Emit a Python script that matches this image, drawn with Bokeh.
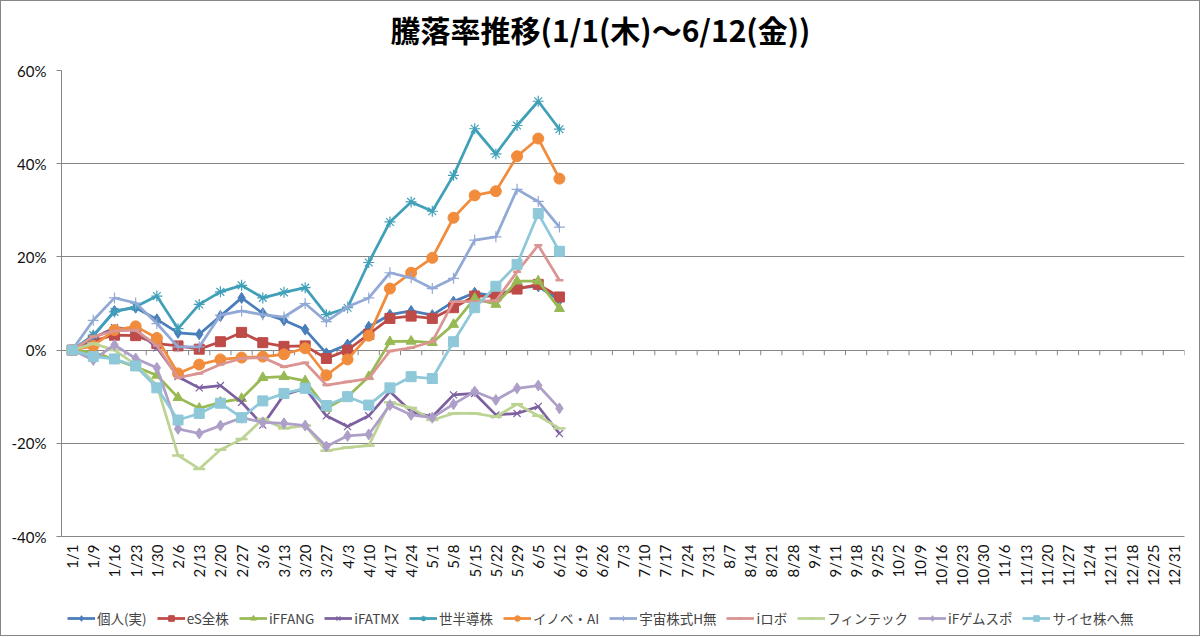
import math
from bokeh.plotting import figure
from bokeh.layouts import column
from bokeh.models import FactorRange, Range1d, Legend, LegendItem, FixedTicker, PrintfTickFormatter, ColumnDataSource, Label
from bokeh.embed import file_html
from bokeh.resources import INLINE

dates = ["1/1", "1/9", "1/16", "1/23", "1/30", "2/6", "2/13", "2/20", "2/27", "3/6", "3/13", "3/20", "3/27",
         "4/3", "4/10", "4/17", "4/24", "5/1", "5/8", "5/15", "5/22", "5/29", "6/5", "6/12", "6/19", "6/26",
         "7/3", "7/10", "7/17", "7/24", "7/31", "8/7", "8/14", "8/21", "8/28", "9/4", "9/11", "9/18", "9/25",
         "10/2", "10/9", "10/16", "10/23", "10/30", "11/6", "11/13", "11/20", "11/27", "12/4", "12/11", "12/18",
         "12/25", "12/31"]

kojin = [0, 3.0, 8.4, 9.1, 6.6, 3.7, 3.4, 7.3, 11.2, 7.9, 6.4, 4.4, -0.7, 1.2, 5.0, 7.6, 8.4, 7.5, 10.4, 12.3, 11.6, 13.4, 13.7, 10.7]
es_zen = [0, 2.0, 3.2, 3.1, 1.4, 0.9, 0.2, 1.8, 3.8, 1.6, 0.8, 0.9, -1.8, 0.0, 3.4, 6.8, 7.3, 6.8, 9.1, 11.6, 11.6, 13.1, 14.1, 11.4]
ifang = [0, -0.5, -2.0, -3.6, -5.4, -10.2, -12.5, -11.2, -10.4, -5.9, -5.7, -6.6, -12.5, -10.0, -5.7, 1.8, 1.9, 1.6, 5.5, 11.1, 9.8, 14.8, 14.8, 8.9]
ifatmx = [0, 2.6, 4.8, 4.4, 0.5, -5.7, -8.1, -7.6, -11.2, -16.1, -9.6, -8.2, -14.1, -16.4, -14.1, -8.9, -13.2, -14.3, -9.6, -9.3, -13.9, -13.6, -12.1, -17.9]
seihan = [0, 3.2, 8.2, 9.3, 11.6, 4.6, 9.8, 12.5, 13.9, 11.2, 12.4, 13.4, 7.6, 9.1, 18.8, 27.5, 31.8, 29.8, 37.5, 47.5, 42.1, 48.2, 53.4, 47.4]
inobe = [0, 0.9, 4.3, 5.1, 2.6, -5.0, -3.1, -2.0, -1.6, -1.4, -0.9, 0.4, -5.4, -2.0, 3.1, 13.2, 16.6, 19.8, 28.4, 33.2, 34.1, 41.6, 45.4, 36.8]
uchu = [0, 6.4, 11.2, 10.1, 5.7, 0.7, 0.7, 7.5, 8.4, 7.6, 7.1, 10.0, 6.1, 9.3, 11.2, 16.6, 15.5, 13.2, 15.4, 23.6, 24.3, 34.5, 31.9, 26.4]
irobo = [0, 2.9, 4.1, 4.3, 1.0, -5.9, -5.0, -3.1, -1.8, -1.6, -3.6, -2.7, -7.5, -6.8, -6.1, -0.2, 0.5, 1.8, 10.4, 10.4, 10.6, 16.8, 22.5, 15.0]
fintech = [0, 1.4, 0.0, -3.1, -7.5, -22.6, -25.5, -21.4, -19.1, -14.8, -16.8, -16.2, -21.6, -20.9, -20.5, -11.2, -12.4, -15.0, -13.6, -13.6, -14.3, -11.6, -14.1, -16.8]
gemspo = [0, -2.1, 1.1, -1.8, -3.8, -16.9, -17.9, -16.2, -14.5, -15.5, -15.7, -16.2, -20.7, -18.4, -18.1, -11.8, -13.9, -14.5, -11.6, -8.9, -10.7, -8.2, -7.6, -12.5]
saise = [0, -1.4, -1.9, -3.4, -8.1, -15.0, -13.6, -11.4, -14.5, -10.9, -9.3, -8.2, -11.9, -10.0, -11.8, -8.1, -5.7, -6.1, 1.8, 9.1, 13.7, 18.4, 29.3, 21.2]

names = ["個人(実)", "eS全株", "iFFANG", "iFATMX", "世半導株", "イノベ・AI", "宇宙株式H無", "iロボ", "フィンテック", "iFゲムスポ", "サイセ株へ無"]
values = [kojin, es_zen, ifang, ifatmx, seihan, inobe, uchu, irobo, fintech, gemspo, saise]
colors = ["#4A7EBB", "#BE4B48", "#98B954", "#7D60A0", "#3FA0B8", "#F08C3C",
          "#92A9D6", "#DA9492", "#BDD394", "#AE9FC8", "#8EC8D9"]
markers = ["diamond", "square", "triangle", "x", "asterisk", "circle", "cross", "dash", "dash", "diamond", "square"]
msizes = [11, 10, 10, 10, 11, 11, 11, 8, 12, 11, 10]

title_text = "騰落率推移(1/1(木)～6/12(金))"
y_ticks = [-40, -20, 0, 20, 40, 60]

# title strip (its frame is aligned with the main chart's frame by the column layout)
t = figure(width=1198, height=56, x_range=Range1d(0, 1), y_range=Range1d(0, 1),
           output_backend="svg", toolbar_location=None,
           min_border_left=0, min_border_right=0, min_border_top=0, min_border_bottom=0)
t.axis.visible = False
t.grid.grid_line_color = None
t.outline_line_color = None
t.add_layout(Label(x=539, y=29, x_units="screen", y_units="screen", text=title_text,
                   text_align="center", text_baseline="middle",
                   text_font="Noto Sans CJK JP", text_font_size="30px", text_font_style="bold",
                   text_color="#000000"))

p = figure(width=1198, height=542,
           x_range=FactorRange(factors=dates), y_range=Range1d(-40, 60),
           output_backend="svg", toolbar_location=None,
           min_border_left=60, min_border_right=15, min_border_top=13, min_border_bottom=63)
p.outline_line_color = None
p.xgrid.grid_line_color = None
p.ygrid.grid_line_color = "#868686"
p.ygrid.grid_line_width = 1
p.yaxis.ticker = FixedTicker(ticks=y_ticks)
p.yaxis.formatter = PrintfTickFormatter(format="%d%%")
p.yaxis.axis_line_color = "#868686"
p.yaxis.major_tick_line_color = "#868686"
p.yaxis.major_tick_out = 5
p.yaxis.major_tick_in = 0
p.yaxis.minor_tick_line_color = None
p.yaxis.major_label_text_font = "Lato"
p.yaxis.major_label_text_font_size = "15px"
p.yaxis.major_label_text_color = "#111111"
p.yaxis.major_label_standoff = 10

p.xaxis.axis_line_color = "#868686"
p.xaxis.major_tick_line_color = None
p.xaxis.major_tick_out = 0
p.xaxis.major_tick_in = 0
p.xaxis.minor_tick_line_color = None
p.xaxis.major_label_orientation = math.pi / 2
p.xaxis.major_label_text_font = "Lato"
p.xaxis.major_label_text_font_size = "15px"
p.xaxis.major_label_text_color = "#111111"
p.xaxis.major_label_standoff = 8

# category-boundary ticks on the zero line
bounds = list(range(len(dates) + 1))
p.segment(x0=bounds, y0=[0] * len(bounds), x1=bounds, y1=[-1.1] * len(bounds),
          line_color="#868686", line_width=1)

# legend strip below the chart (its renderers use the same data but are hidden)
q = figure(width=1198, height=36, x_range=FactorRange(factors=dates), y_range=Range1d(-40, 60),
           output_backend="svg", toolbar_location=None,
           min_border_left=0, min_border_right=0, min_border_top=0, min_border_bottom=0)
q.axis.visible = False
q.grid.grid_line_color = None
q.outline_line_color = None

items = []
for name, vals, col, mk, ms in zip(names, values, colors, markers, msizes):
    src = ColumnDataSource(dict(x=dates[:len(vals)], y=vals))
    for fig in (p, q):
        lr = fig.line("x", "y", source=src, line_color=col, line_width=2.75)
        if mk in ("x", "asterisk", "cross"):
            sr = fig.scatter("x", "y", source=src, marker=mk, size=ms, line_color=col, line_width=1.2, fill_color=None)
        elif mk == "dash":
            sr = fig.scatter("x", "y", source=src, marker=mk, size=ms, line_color=col, line_width=2.5, fill_color=None)
        else:
            sr = fig.scatter("x", "y", source=src, marker=mk, size=ms, line_color=col, fill_color=col)
        if fig is q:
            lr.visible = False
            sr.visible = False
            items.append(LegendItem(label=name, renderers=[lr, sr]))

legend = Legend(items=items, orientation="horizontal", location=(6, 7),
                label_text_font="Noto Sans CJK JP", label_text_font_size="13.5px",
                glyph_width=28, glyph_height=14, spacing=10, label_standoff=2,
                border_line_color=None, background_fill_alpha=0, margin=0, padding=2,
                inactive_fill_alpha=0)
q.add_layout(legend)

layout = column(t, p, q, spacing=0, styles={"border": "1px solid #868686"})
open("out.html", "w").write(file_html(layout, INLINE))
